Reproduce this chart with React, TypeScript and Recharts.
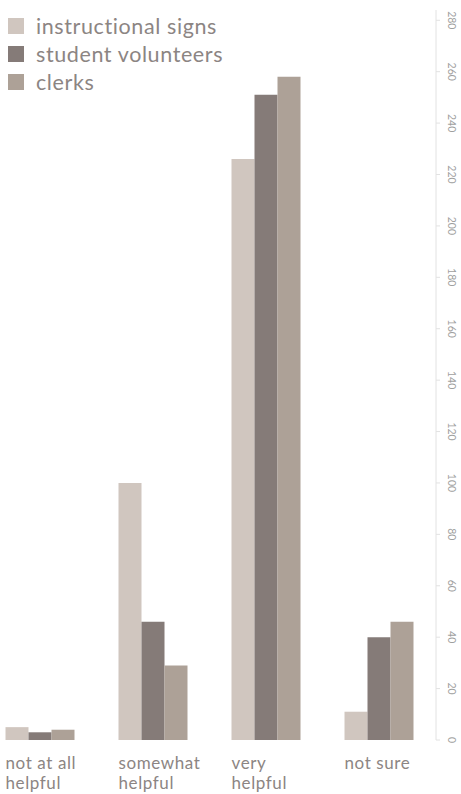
import React from "react";
import { BarChart, Bar, XAxis, YAxis, Legend } from "recharts";

const categories = ["not at all helpful", "somewhat helpful", "very helpful", "not sure"];
const tickLines = [["not at all", "helpful"], ["somewhat", "helpful"], ["very", "helpful"], ["not sure"]];
const instructionalSigns = [5, 100, 226, 11];
const studentVolunteers = [3, 46, 251, 40];
const clerks = [4, 29, 258, 46];
const yTicks = [0, 20, 40, 60, 80, 100, 120, 140, 160, 180, 200, 220, 240, 260, 280];

const seriesNames = ["instructional signs", "student volunteers", "clerks"];
const colors = ["#d0c6bf", "#857b78", "#ada197"];

const data = categories.map((c, i) => ({
  category: c,
  s0: instructionalSigns[i],
  s1: studentVolunteers[i],
  s2: clerks[i],
}));

const FONT = "Lato, 'Open Sans', sans-serif";

const XTick = (props: any) => {
  const { x, payload, index } = props;
  const lines = tickLines[index] || [payload.value];
  return (
    <g>
      {lines.map((l: string, i: number) => (
        <text
          key={i}
          x={x - 35}
          y={769 + i * 19.5}
          textAnchor="start"
          fill="#8c8583"
          fontSize={17}
          letterSpacing={0.6}
          fontFamily={FONT}
        >
          {l}
        </text>
      ))}
    </g>
  );
};

const YTick = (props: any) => {
  const { x, y, payload } = props;
  const cx = x + 10;
  return (
    <text
      x={cx}
      y={y}
      transform={`rotate(90 ${cx} ${y})`}
      textAnchor="middle"
      dominantBaseline="central"
      fill="#9f9f9f"
      fontSize={10.5}
      fontFamily={FONT}
    >
      {payload.value}
    </text>
  );
};

const LegendContent = () => (
  <div style={{ fontFamily: FONT }}>
    {seriesNames.map((n, i) => (
      <div key={n} style={{ display: "flex", alignItems: "center", height: 28 }}>
        <div style={{ width: 16, height: 16, background: colors[i], marginRight: 12 }} />
        <span style={{ fontSize: 21.5, color: "#8c8583", lineHeight: "24px", letterSpacing: 0.6 }}>{n}</span>
      </div>
    ))}
  </div>
);

export default function App() {
  return (
    <div style={{ position: "absolute", left: -16, top: 0 }}>
      <BarChart
        width={477}
        height={794}
        data={data}
        margin={{ top: 10, right: 0, bottom: 0, left: 0 }}
        barGap={0}
        barCategoryGap={21.5}
      >
        <XAxis
          dataKey="category"
          axisLine={false}
          tickLine={false}
          height={54}
          interval={0}
          tick={<XTick />}
        />
        <YAxis
          orientation="right"
          domain={[0, 284]}
          ticks={yTicks}
          width={25}
          axisLine={{ stroke: "#e2e2e2" }}
          tickLine={{ stroke: "#e2e2e2" }}
          tickSize={4}
          tick={<YTick />}
          interval={0}
        />
        <Legend
          layout="vertical"
          align="center"
          verticalAlign="middle"
          wrapperStyle={{ left: 24, top: 12, width: 280 }}
          content={<LegendContent />}
        />
        {["s0", "s1", "s2"].map((k, i) => (
          <Bar key={k} dataKey={k} name={seriesNames[i]} fill={colors[i]} isAnimationActive={false} />
        ))}
      </BarChart>
    </div>
  );
}
